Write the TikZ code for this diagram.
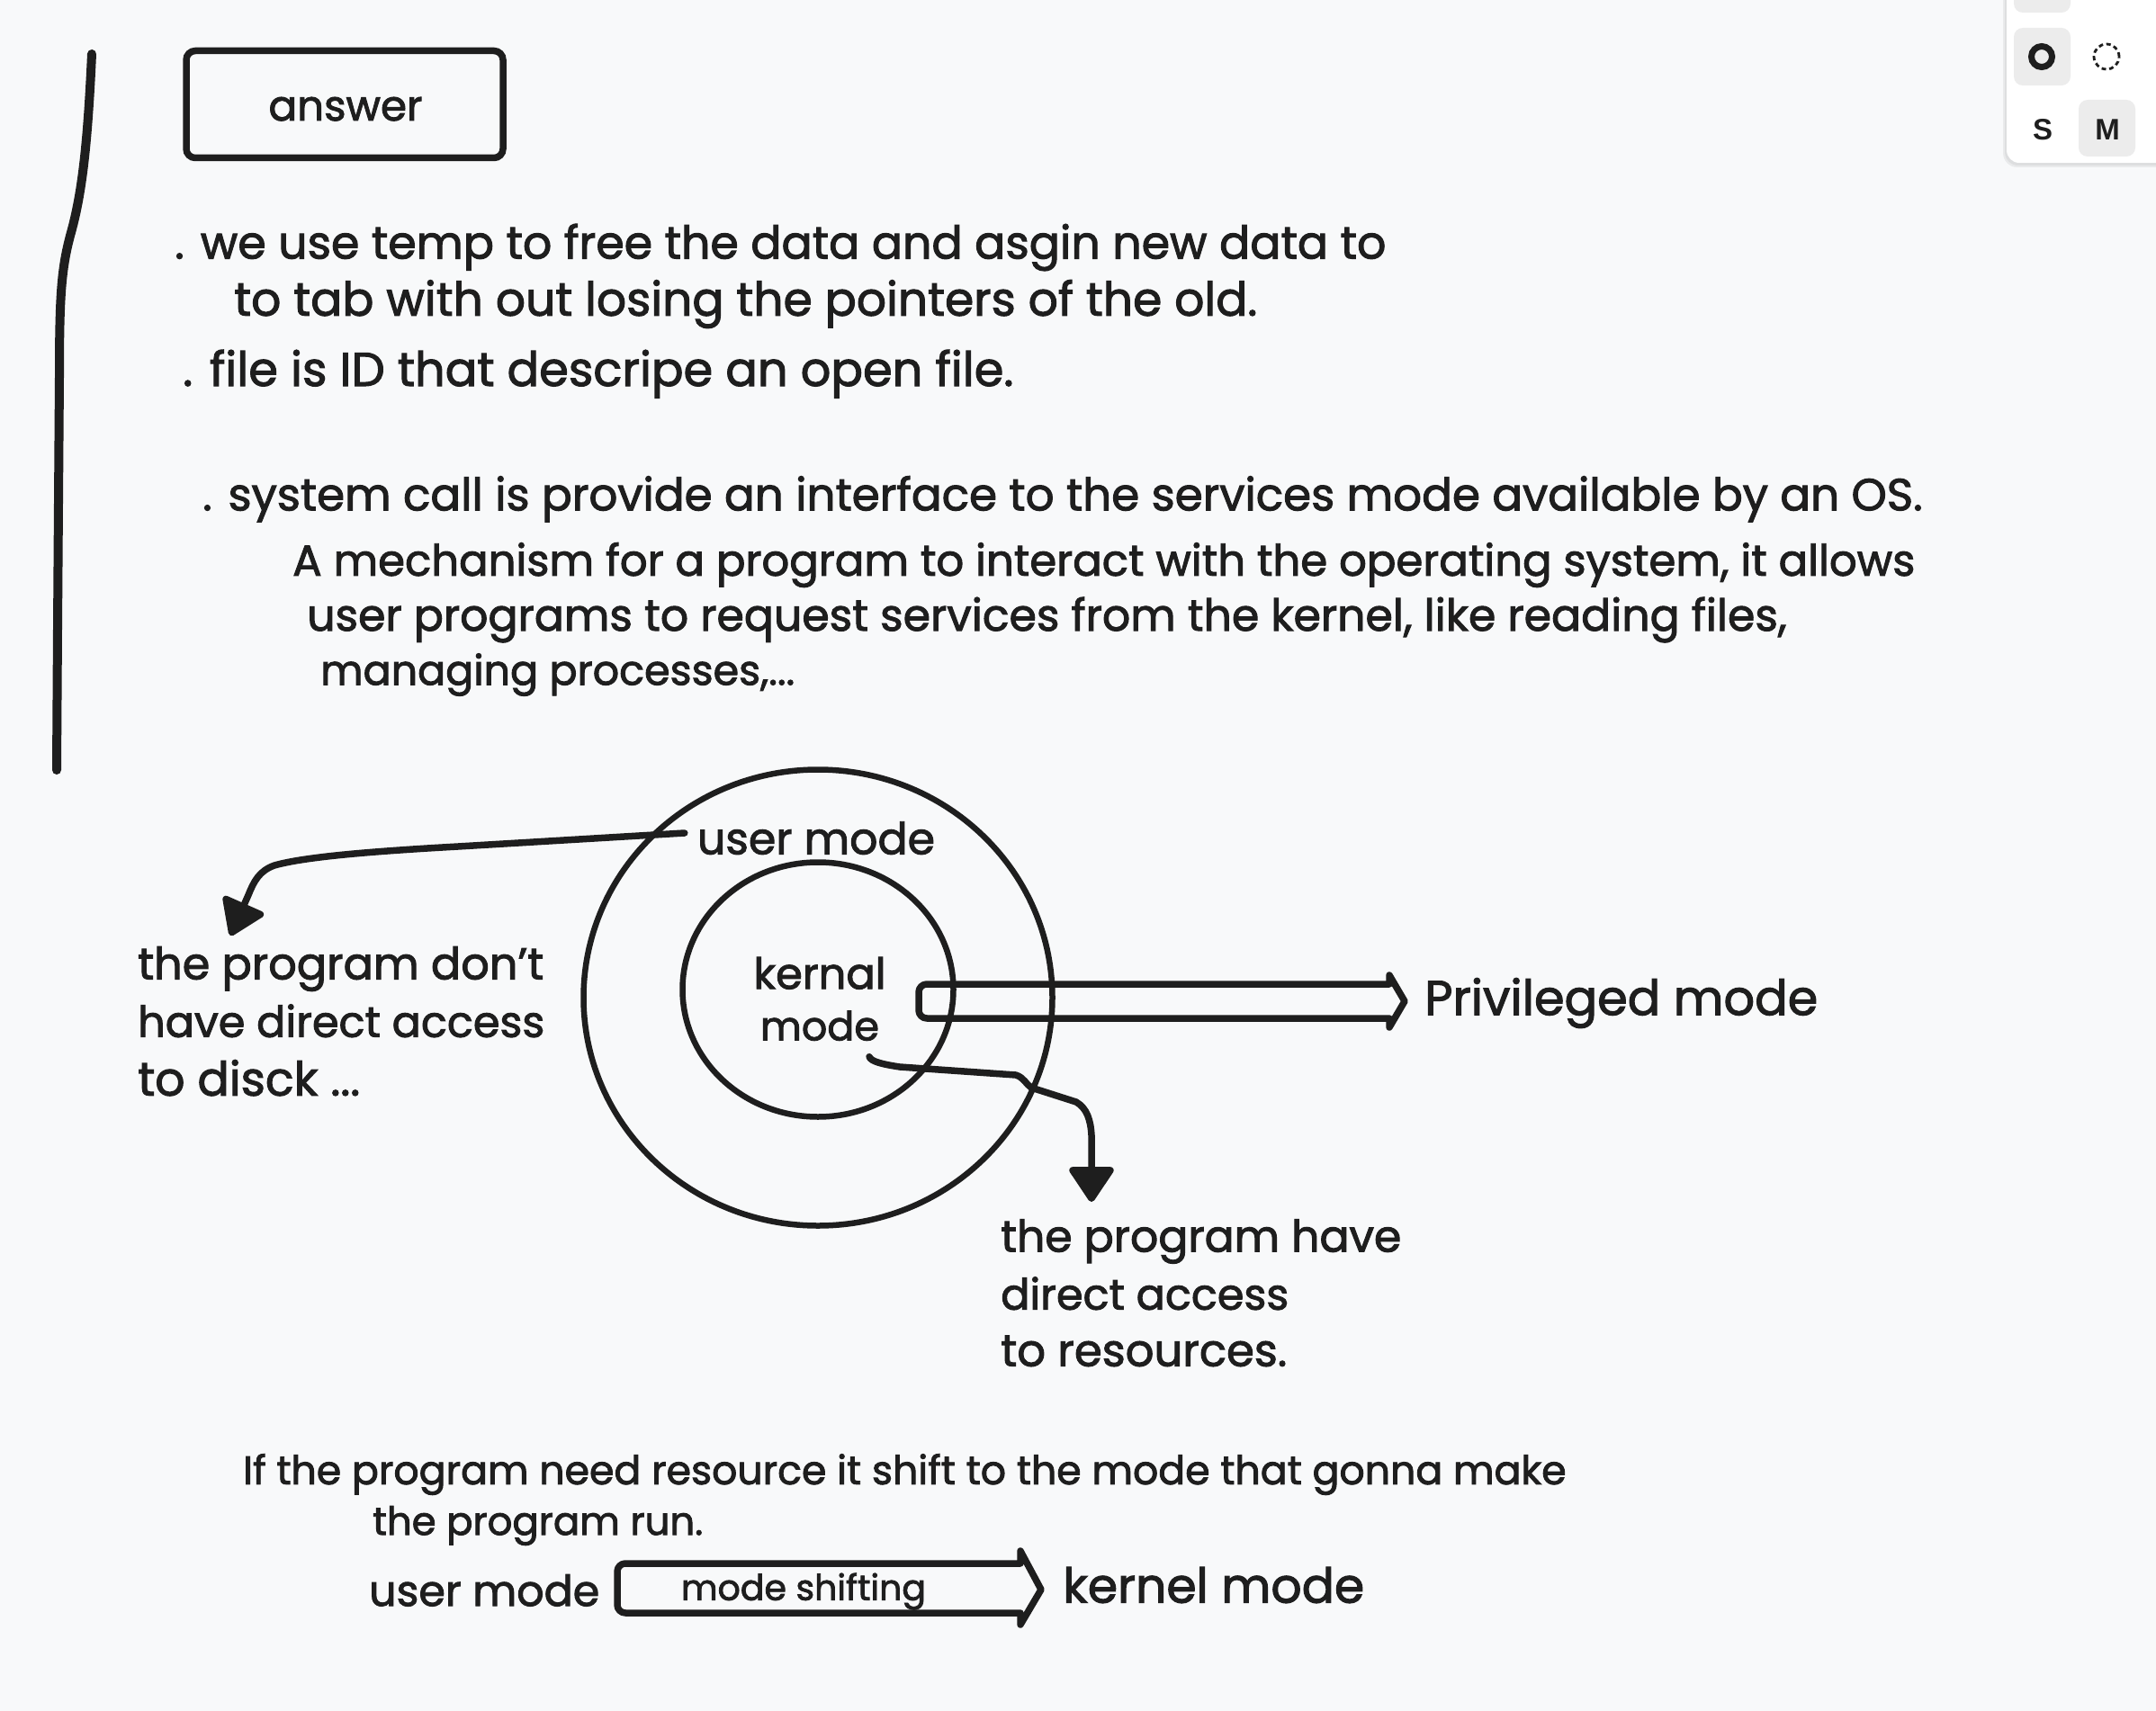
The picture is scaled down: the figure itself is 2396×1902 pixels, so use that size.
\documentclass[tikz,border=0pt]{standalone}
\usepackage{fontspec}
\setmainfont{Poppins}[FakeBold=2]
\newfontfamily\uifont{Liberation Sans}
\usetikzlibrary{arrows.meta,shapes.geometric}
\definecolor{ink}{HTML}{1E1E1E}
\definecolor{bgc}{HTML}{F8F9FA}
\definecolor{btn}{HTML}{ECECEC}
\newcommand\fw[2]{\resizebox{#1}{!}{\vphantom{Xg}#2}}
\begin{document}
\begin{tikzpicture}[x=1pt,y=-1pt,
  txt/.style={inner sep=0pt, anchor=west, text=ink, yshift=-6pt},
  ctxt/.style={inner sep=0pt, text=ink, yshift=-6pt},
  uitxt/.style={inner sep=0pt, text=ink},
  ring/.style={draw=ink, line width=6.5pt, ellipse, inner sep=0pt},
  conn/.style={draw=ink, line width=7.5pt, line cap=round, line join=round,
    -{Triangle[length=42pt,width=54pt,round]}},
  blockarr/.style={draw=ink, line width=7.5pt, line join=round, line cap=round},
  pen/.style={draw=ink, line width=10pt, line cap=round, line join=round}]
\useasboundingbox (0,0) rectangle (2396,1902);
\fill[bgc] (0,0) rectangle (2396,1902);

% left margin stroke
\draw[pen] (102,60) .. controls (97,170) and (90,220) .. (78,262)
  .. controls (68,300) and (66,330) .. (66,420) -- (64,700) -- (63,856);

% answer box
\node[draw=ink, line width=7.5pt, rounded corners=10pt, minimum width=352pt, minimum height=119pt, inner sep=0pt] (ans) at (383,116) {};
\node[ctxt] (anst) at (384,118) {\fw{171pt}{answer}};

% notes
\node[txt] (l1) at (194,269) {\fw{1346pt}{. we use temp to free the data and asgin new data to}};
\node[txt] (l2) at (260,332) {\fw{1137pt}{to tab with out losing the pointers of the old.}};
\node[txt] (l3) at (203,410) {\fw{923pt}{. file is ID that descripe an open file.}};
\node[txt] (l4) at (225,549) {\fw{1911pt}{. system call is provide an interface to the services mode available by an OS.}};
\node[txt] (l5) at (325,622) {\fw{1803pt}{A mechanism for a program to interact with the operating system, it allows}};
\node[txt] (l6) at (341,683) {\fw{1644pt}{user programs to request services from the kernel, like reading files,}};
\node[txt] (l7) at (356,744) {\fw{527pt}{managing processes,...}};

% circles
\node[ring, minimum width=521pt, minimum height=507pt] (outer) at (909,1109) {};
\node[ring, minimum width=301pt, minimum height=283pt] (inner) at (909,1100) {};
\node[ctxt] (um) at (907,932) {\fw{264pt}{user mode}};
\node[ctxt] (kn) at (911,1082) {\fw{147pt}{kernal}};
\node[ctxt] (km) at (911,1140) {\fw{132pt}{mode}};

% left text
\node[txt] (la) at (153,1071) {\fw{451pt}{the program don't}};
\node[txt] (lb) at (153,1135) {\fw{452pt}{have direct access}};
\node[txt] (lc) at (153,1199) {\fw{247pt}{to disck ...}};

% right text
\node[txt] (ra) at (1112,1374) {\fw{445pt}{the program have}};
\node[txt] (rb) at (1112,1438) {\fw{320pt}{direct access}};
\node[txt] (rc) at (1112,1502) {\fw{318pt}{to resources.}};

% privileged
\node[txt] (pm) at (1583,1109) {\fw{437pt}{Privileged mode}};
\draw[blockarr] (1300,1094) [rounded corners=9pt] -- (1021,1094) -- (1021,1132) -- (1300,1132) [sharp corners] -- (1544,1132) -- (1544,1142) -- (1561,1113) -- (1544,1084) -- (1544,1094) -- cycle;

% connectors
\coordinate (la-in) at (256,1040);
\draw[conn] ([xshift=-14pt,yshift=12pt]um.west) -- (509,941)
  .. controls (420,946) and (340,952) .. (305,962)
  .. controls (288,968) and (282,980) .. (276,995)
  -- (la-in);
\coordinate (ra-in) at (1213,1336);
\draw[conn] ([xshift=55pt,yshift=-6pt]km.south) .. controls (968,1180) and (980,1183) .. (1000,1186)
  -- (1129,1195) .. controls (1138,1198) and (1140,1205) .. (1146,1209)
  -- (1196,1225) .. controls (1208,1232) and (1212,1245) .. (1213,1262)
  -- (ra-in);

% bottom
\node[txt] (b1) at (270,1633) {\fw{1470pt}{If the program need resource it shift to the mode that gonna make}};
\node[txt] (b2) at (414,1690) {\fw{367pt}{the program run.}};
\node[txt] (bu) at (410,1768) {\fw{256pt}{user mode}};
\node[ctxt] (ms) at (893,1763) {\fw{272pt}{mode shifting}};
\node[txt] (bk) at (1181,1763) {\fw{335pt}{kernel mode}};
\draw[blockarr] (900,1738) [rounded corners=9pt] -- (686,1738) -- (686,1793) -- (900,1793) [sharp corners] -- (1134,1793) -- (1134,1806) -- (1157,1767) -- (1134,1724) -- (1134,1738) -- cycle;

% UI panel top right
\fill[black, opacity=0.06] (2226,-30) [rounded corners=16pt] rectangle (2420,186);
\fill[black, opacity=0.05] (2228,-30) [rounded corners=15pt] rectangle (2420,184);
\fill[white] (2230,-30) [rounded corners=14pt] rectangle (2420,181);
\fill[btn] (2238,-40) [rounded corners=10pt] rectangle (2301,14);
\fill[btn] (2238,31) [rounded corners=10pt] rectangle (2301,95);
\fill[btn] (2310,111) [rounded corners=10pt] rectangle (2373,174);
\draw[ink, line width=7pt] (2269,63) circle [radius=11.5pt];
\draw[ink, line width=2.8pt, dash pattern=on 5pt off 3.6pt] (2341,63) circle [radius=14pt];
\node[uitxt, font=\uifont\bfseries\fontsize{33}{33}\selectfont] (bs) at (2270,144) {S};
\node[uitxt, font=\uifont\bfseries\fontsize{33}{33}\selectfont] (bm) at (2342,144) {M};
\end{tikzpicture}
\end{document}
